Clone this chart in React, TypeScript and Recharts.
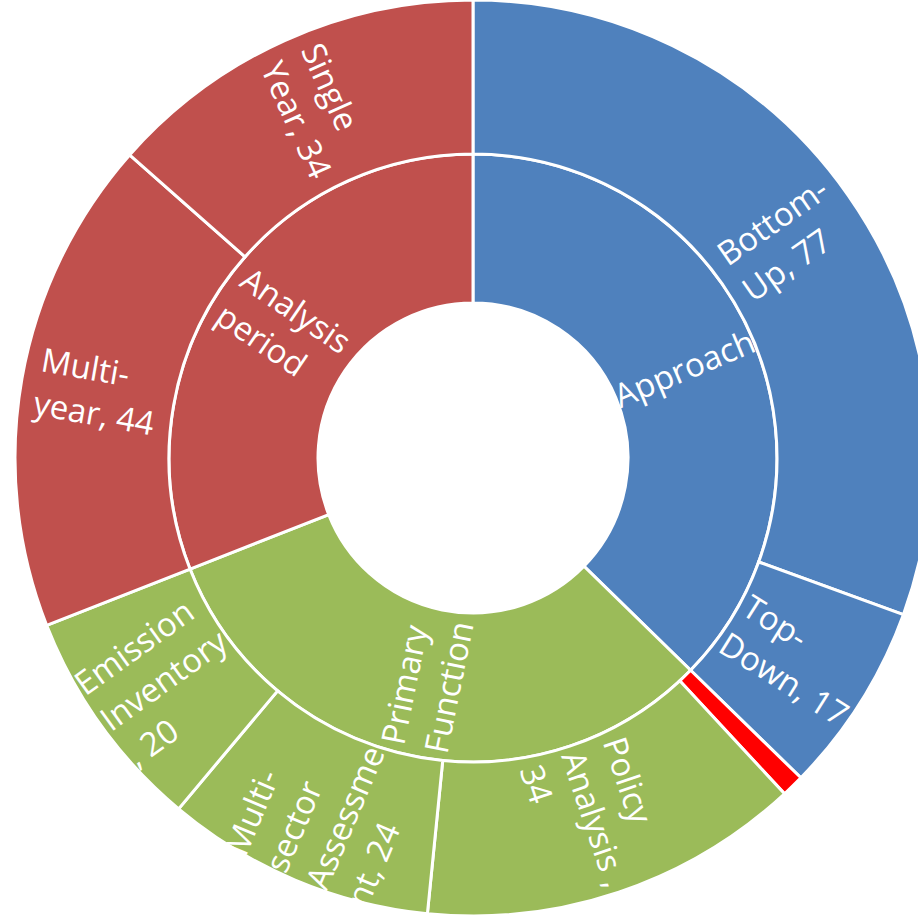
import { PieChart, Pie, Cell } from "recharts";

// inner ring
const innerNames = ["Approach", "Primary Function", "Analysis period"];
const innerValues = [94, 80, 78];
const innerLines = [["Approach"], ["Primary", "Function"], ["Analysis", "period"]];

// outer ring
const outerNames = [
  "Bottom-Up",
  "Top-Down",
  "Other",
  "Policy Analysis",
  "Multi-sector Assessment",
  "Emission Inventory",
  "Multi-year",
  "Single Year",
];
const outerValues = [77, 17, 2, 34, 24, 20, 44, 34];
const outerLines = [
  ["Bottom-", "Up, 77"],
  ["Top-", "Down, 17"],
  [],
  ["Policy", "Analysis ,", "34"],
  ["Multi-", "sector", "Assessme", "nt, 24"],
  ["Emission", "Inventory", ", 20"],
  ["Multi-", "year, 44"],
  ["Single", "Year, 34"],
];

const innerColors = ["#4F81BD", "#9BBB59", "#C0504D"];
const outerColors = ["#4F81BD", "#4F81BD", "#FF0000", "#9BBB59", "#9BBB59", "#9BBB59", "#C0504D", "#C0504D"];

const innerData = innerNames.map((name, i) => ({ name, value: innerValues[i] }));
const outerData = outerNames.map((name, i) => ({ name, value: outerValues[i] }));

const FONT = "'Open Sans', 'Segoe UI', sans-serif";
const FS = 33;
const LH = 44;

let ctx: CanvasRenderingContext2D | null = null;
function measure(text: string) {
  if (!ctx) {
    ctx = document.createElement("canvas").getContext("2d");
  }
  if (!ctx) return text.length * FS * 0.55;
  ctx.font = `${FS}px 'Open Sans'`;
  return ctx.measureText(text).width;
}

function makeLabel(lines: string[][], ring: string) {
  return (props: any) => {
    const { cx, cy, midAngle, innerRadius, outerRadius, index } = props;
    const ls = lines[index];
    if (!ls || ls.length === 0) return null;
    const r = (innerRadius + outerRadius) / 2;
    const rad = (-midAngle * Math.PI) / 180;
    const x = cx + r * Math.cos(rad);
    const y = cy + r * Math.sin(rad);
    let rot = -midAngle;
    rot = (((rot + 180) % 360) + 360) % 360 - 180;
    if (rot > 90) rot -= 180;
    if (rot < -90) rot += 180;
    const w = Math.max(...ls.map(measure));
    const h = ls.length * LH;
    const id = `clip-${ring}-${index}`;
    return (
      <g key={id}>
        <defs>
          <clipPath id={id}>
            <circle cx={cx} cy={cy} r={outerRadius} />
          </clipPath>
        </defs>
        <g clipPath={`url(#${id})`}>
          <text
            transform={`translate(${x},${y}) rotate(${rot})`}
            fill="#fff"
            fontSize={FS}
            fontFamily={FONT}
          >
            {ls.map((l, i) => (
              <tspan key={i} x={-w / 2} y={-h / 2 + LH * i + LH / 2 + FS * 0.35}>
                {l}
              </tspan>
            ))}
          </text>
        </g>
      </g>
    );
  };
}

export default function App() {
  return (
    <div style={{ position: "absolute", left: 0, top: 0, background: "#fff" }}>
      <PieChart width={918} height={920} margin={{ top: 0, right: 0, bottom: 0, left: 0 }}>
        <Pie
          data={innerData}
          dataKey="value"
          nameKey="name"
          cx={473}
          cy={458}
          innerRadius={155}
          outerRadius={304}
          startAngle={90}
          endAngle={-270}
          stroke="#fff"
          strokeWidth={3}
          label={makeLabel(innerLines, "inner")}
          labelLine={false}
          isAnimationActive={false}
        >
          {innerData.map((d, i) => (
            <Cell key={d.name} fill={innerColors[i]} />
          ))}
        </Pie>
        <Pie
          data={outerData}
          dataKey="value"
          nameKey="name"
          cx={473}
          cy={458}
          innerRadius={304}
          outerRadius={458}
          startAngle={90}
          endAngle={-270}
          stroke="#fff"
          strokeWidth={3}
          label={makeLabel(outerLines, "outer")}
          labelLine={false}
          isAnimationActive={false}
        >
          {outerData.map((d, i) => (
            <Cell key={d.name} fill={outerColors[i]} />
          ))}
        </Pie>
      </PieChart>
    </div>
  );
}
